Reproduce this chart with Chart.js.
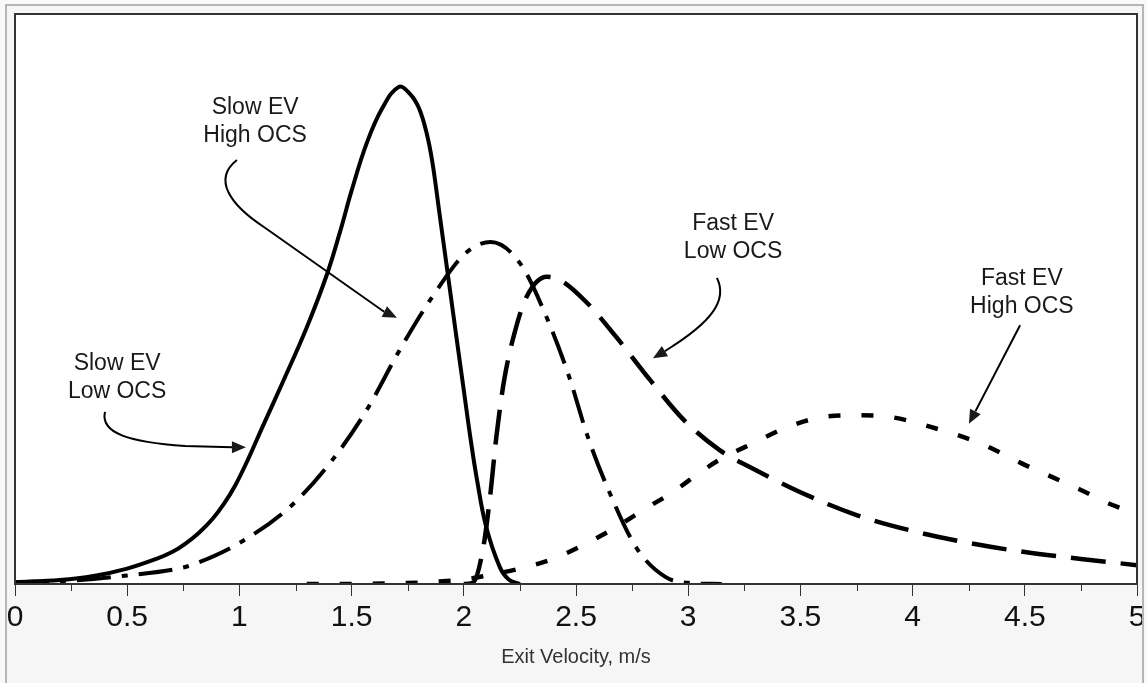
<!DOCTYPE html>
<html>
<head>
<meta charset="utf-8">
<script src="https://cdn.jsdelivr.net/npm/chart.js@4.4.0/dist/chart.umd.min.js"></script>
<style>
  body { margin: 0; background: #f9f9f9; }
  #frame {
    position: absolute; left: 5px; top: 4px;
    width: 1135px; height: 679px;
    border: 2px solid #b5b5b5; border-bottom: none;
    overflow: hidden; background: #f6f6f6;
  }
  #frame canvas { display: block; }
</style>
</head>
<body>
<div id="frame"><canvas id="evChart" width="1135" height="677"></canvas></div>
<script>
// data (x in m/s, y as relative frequency, % of plot height)
const slowLowX  = [0, 0.2, 0.35, 0.5, 0.63, 0.7, 0.76, 0.82, 0.88, 0.93, 0.98, 1.04, 1.1, 1.2, 1.3, 1.39, 1.45, 1.5, 1.567, 1.637, 1.71, 1.76, 1.8, 1.835, 1.86, 1.89, 1.93, 1.97, 2.0, 2.03, 2.06, 2.1, 2.16, 2.2, 2.25];
const slowLowY  = [0.3, 0.7, 1.4, 2.7, 4.4, 5.6, 7.1, 9.0, 11.4, 14.0, 17.2, 22.0, 27.3, 36, 45, 54.3, 62, 69, 77.3, 83.5, 87.2, 86.0, 83.5, 79, 74, 65.5, 54, 42.5, 34, 25.5, 18, 10, 3, 0.8, 0];

const slowHighX = [0, 0.25, 0.5, 0.75, 0.82, 1.0, 1.225, 1.415, 1.567, 1.715, 1.86, 2.01, 2.12, 2.25, 2.37, 2.47, 2.55, 2.65, 2.77, 2.9, 3.0, 3.15];
const slowHighY = [0.3, 0.6, 1.5, 2.9, 3.8, 7.2, 13.5, 21.8, 30.5, 41.1, 50.4, 58.1, 60.0, 56.3, 46.7, 36.3, 26.1, 16.0, 6.3, 1.2, 0.2, 0];

const fastLowX  = [2.0, 2.04, 2.085, 2.117, 2.145, 2.18, 2.23, 2.28, 2.37, 2.43, 2.55, 2.68, 2.83, 2.98, 3.14, 3.3, 3.5, 3.75, 4.0, 4.25, 4.5, 4.75, 5.0];
const fastLowY  = [0, 0.2, 6.0, 15.3, 25.8, 35.8, 44.6, 50.4, 53.9, 53.3, 49.3, 43.3, 35.8, 28.8, 23.5, 20.0, 16.1, 12.1, 9.3, 7.2, 5.6, 4.4, 3.3];

const fastHighX = [1.3, 1.36, 1.98, 2.115, 2.26, 2.41, 2.55, 2.68, 2.8, 2.93, 3.05, 3.14, 3.3, 3.44, 3.6, 3.75, 3.9, 4.05, 4.3, 4.5, 4.75, 4.87, 5.0];
const fastHighY = [0, 0, 0.7, 1.6, 2.8, 4.6, 7.2, 10.0, 13.0, 16.1, 19.5, 21.8, 24.9, 27.5, 29.3, 29.6, 29.3, 27.9, 24.7, 20.9, 16.5, 14.2, 12.3];

const seriesNames = ['Slow EV Low OCS', 'Slow EV High OCS', 'Fast EV Low OCS', 'Fast EV High OCS'];
const xTickLabels = ['0', '0.5', '1', '1.5', '2', '2.5', '3', '3.5', '4', '4.5', '5'];
const xTitle = 'Exit Velocity, m/s';
const calloutText = [['Slow EV', 'High OCS'], ['Slow EV', 'Low OCS'], ['Fast EV', 'Low OCS'], ['Fast EV', 'High OCS']];

const FONT = '"Liberation Sans", Arial, sans-serif';

function pts(xs, ys) {
  return xs.map((x, i) => ({ x: x, y: ys[i] }));
}

function lineSet(label, data, dash, width, smooth) {
  const ds = {
    label: label,
    data: data,
    borderColor: '#000',
    borderWidth: width,
    borderDash: dash,
    borderCapStyle: 'butt',
    pointRadius: 0,
    fill: false
  };
  if (smooth) ds.tension = smooth;
  else ds.cubicInterpolationMode = 'monotone';
  return ds;
}

// callouts placed in data units, drawn through the scales
const callouts = [
  { at: [1.07, 81.2],
    path: [['M', [0.989, 74.4]], ['C', [0.879, 71.0], [0.958, 66.5], [1.114, 62.5]], ['Q', [1.381, 55.1], [1.640, 47.9]]],
    tip: [1.702, 46.7] },
  { at: [0.455, 36.2],
    path: [['M', [0.401, 30.2]], ['C', [0.379, 26.4], [0.512, 24.9], [0.758, 24.2]], ['L', [0.967, 24.0]]],
    tip: [1.029, 24.0] },
  { at: [3.20, 60.8],
    path: [['M', [3.128, 53.7]], ['C', [3.177, 49.8], [3.106, 46.0], [2.906, 41.1]]],
    tip: [2.843, 39.6] },
  { at: [4.487, 51.1],
    path: [['M', [4.479, 45.4]]],
    tip: [4.251, 28.1] }
];

const plotBox = {
  id: 'plotBox',
  beforeDraw(chart) {
    const { ctx, chartArea: { left, top, right, bottom } } = chart;
    ctx.save();
    ctx.fillStyle = '#fff';
    ctx.fillRect(left, top, right - left, bottom - top);
    ctx.restore();
  },
  afterDraw(chart) {
    const { ctx, chartArea: { left, top, right, bottom }, scales: { x } } = chart;
    ctx.save();
    ctx.strokeStyle = '#333';
    ctx.lineWidth = 2;
    ctx.strokeRect(left, top, right - left, bottom - top);
    // minor ticks
    ctx.lineWidth = 1;
    ctx.beginPath();
    for (let v = 0.25; v < 5; v += 0.5) {
      const px = Math.round(x.getPixelForValue(v)) + 0.5;
      ctx.moveTo(px, bottom);
      ctx.lineTo(px, bottom + 7);
    }
    ctx.stroke();
    ctx.restore();
  }
};

const calloutPlugin = {
  id: 'callouts',
  afterDatasetsDraw(chart) {
    const { ctx, scales: { x, y } } = chart;
    const P = p => [x.getPixelForValue(p[0]), y.getPixelForValue(p[1])];
    ctx.save();
    ctx.fillStyle = '#1a1a1a';
    ctx.strokeStyle = '#000';
    ctx.font = '23px ' + FONT;
    ctx.textAlign = 'center';
    ctx.textBaseline = 'middle';
    callouts.forEach((c, i) => {
      const [cx, cy] = P(c.at);
      ctx.fillText(calloutText[i][0], cx, cy - 14);
      ctx.fillText(calloutText[i][1], cx, cy + 14);

      ctx.lineWidth = 2;
      ctx.beginPath();
      let last;
      c.path.forEach(seg => {
        const q = seg.slice(1).map(P);
        if (seg[0] === 'M') ctx.moveTo(q[0][0], q[0][1]);
        if (seg[0] === 'L') ctx.lineTo(q[0][0], q[0][1]);
        if (seg[0] === 'Q') ctx.quadraticCurveTo(q[0][0], q[0][1], q[1][0], q[1][1]);
        if (seg[0] === 'C') ctx.bezierCurveTo(q[0][0], q[0][1], q[1][0], q[1][1], q[2][0], q[2][1]);
        last = q[q.length - 1];
      });
      const tip = P(c.tip);
      let dx = tip[0] - last[0], dy = tip[1] - last[1];
      const len = Math.hypot(dx, dy);
      dx /= len; dy /= len;
      const bx = tip[0] - dx * 14, by = tip[1] - dy * 14;
      ctx.lineTo(bx, by);
      ctx.stroke();
      ctx.beginPath();
      ctx.moveTo(tip[0], tip[1]);
      ctx.lineTo(bx - dy * 6, by + dx * 6);
      ctx.lineTo(bx + dy * 6, by - dx * 6);
      ctx.closePath();
      ctx.fill();
    });
    ctx.restore();
  }
};

const config = {
  type: 'line',
  data: {
    datasets: [
      lineSet(seriesNames[0], pts(slowLowX, slowLowY), [], 4, 0.4),
      lineSet(seriesNames[1], pts(slowHighX, slowHighY), [34, 11, 6, 11], 4),
      lineSet(seriesNames[2], pts(fastLowX, fastLowY), [35, 15], 4.5),
      lineSet(seriesNames[3], pts(fastHighX, fastHighY), [12, 21], 4.5)
    ]
  },
  options: {
    responsive: false,
    animation: false,
    layout: { padding: { left: 8, top: 8, right: 5, bottom: 0 } },
    plugins: {
      legend: { display: false },
      tooltip: { enabled: false }
    },
    scales: {
      x: {
        type: 'linear',
        min: 0,
        max: 5,
        ticks: {
          stepSize: 0.5,
          autoSkip: false,
          maxRotation: 0,
          padding: 4,
          color: '#111',
          font: { family: FONT, size: 30 },
          callback: (v, i) => xTickLabels[i]
        },
        grid: { drawOnChartArea: false, tickLength: 12, tickColor: '#333', tickWidth: 1 },
        border: { display: false },
        title: {
          display: true,
          text: xTitle,
          color: '#333',
          font: { family: FONT, size: 20 },
          padding: { top: 0, bottom: 14 }
        },
        afterFit(scale) {
          scale.height = 99;
          scale.paddingLeft = 0;
          scale.paddingRight = 0;
        }
      },
      y: { display: false, min: 0, max: 100 }
    }
  },
  plugins: [plotBox, calloutPlugin]
};

const evChart = new Chart(document.getElementById('evChart'), config);
</script>
</body>
</html>
